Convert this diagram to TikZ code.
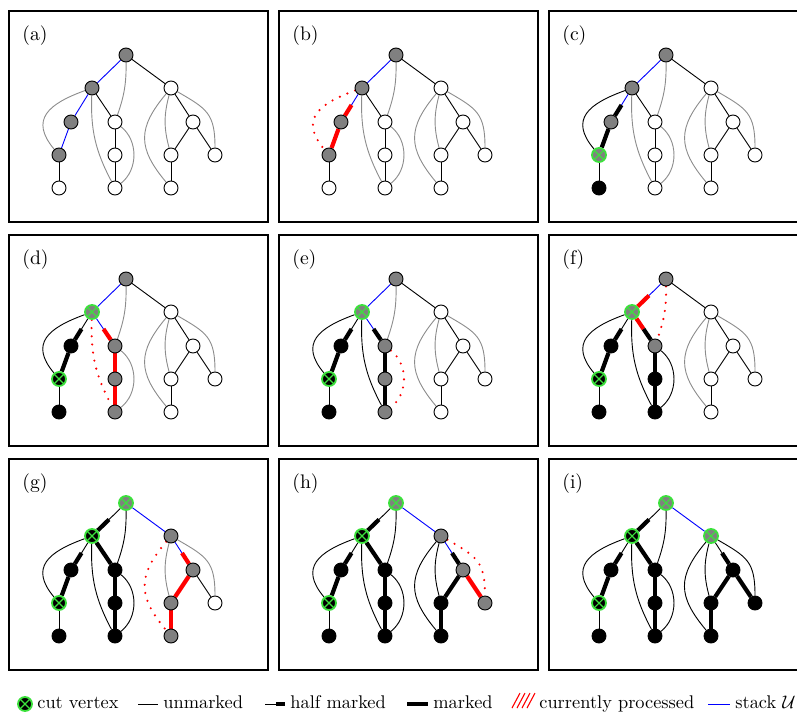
\documentclass[tikz,border=0pt]{standalone}
\usetikzlibrary{calc,backgrounds}
\definecolor{cutg}{RGB}{60,225,60}
\definecolor{vgray}{RGB}{128,128,128}
\definecolor{egray}{RGB}{140,140,140}
\tikzset{
 vtx/.style={circle,draw=black,line width=0.5pt,fill=white,minimum size=7.7pt,inner sep=0pt},
 gv/.style={fill=vgray},
 bv/.style={fill=black},
 cutv/.style={draw=cutg,line width=1pt,path picture={\draw[cutg,line width=0.6pt]
   (path picture bounding box.north west)--(path picture bounding box.south east)
   (path picture bounding box.north east)--(path picture bounding box.south west);}},
 thinE/.style={line width=0.5pt,black},
 grayE/.style={line width=0.5pt,egray},
 blueE/.style={line width=0.5pt,blue},
 thickE/.style={line width=2.3pt,black},
 redE/.style={line width=2.3pt,red},
 dotE/.style={red,line width=1.3pt,line cap=round,dash pattern=on 0pt off 4.5pt},
 frame/.style={draw=black,line width=1.1pt},
 plabel/.style={anchor=base west,inner sep=0pt,font=\fontsize{10.8}{13}\selectfont},
 ltext/.style={anchor=base west,inner sep=0pt,font=\fontsize{10.1}{12}\selectfont},
 nR/.style={},nA/.style={},nB/.style={},nC/.style={},nD/.style={},nE/.style={},nF/.style={},
 nG/.style={},nH/.style={},nI/.style={},nJ/.style={},nK/.style={},nL/.style={}
}
\newcommand\mktree[1]{%
 \node[vtx,nR] (#1R) at (117,-44) {};
 \node[vtx,nA] (#1A) at (83,-77) {};
 \node[vtx,nB] (#1B) at (162,-77) {};
 \node[vtx,nC] (#1C) at (62,-111) {};
 \node[vtx,nD] (#1D) at (106,-111) {};
 \node[vtx,nE] (#1E) at (184,-111) {};
 \node[vtx,nF] (#1F) at (50,-144) {};
 \node[vtx,nG] (#1G) at (106,-144) {};
 \node[vtx,nH] (#1H) at (162,-144) {};
 \node[vtx,nI] (#1I) at (206,-144) {};
 \node[vtx,nJ] (#1J) at (50,-177) {};
 \node[vtx,nK] (#1K) at (106,-177) {};
 \node[vtx,nL] (#1L) at (162,-177) {};
}
\newcommand\sedge[3]{\draw[#1] (#2) -- (#3);}
\newcommand\hedge[4]{\draw[#1] (#3) -- ($(#3)!.5!(#4)$); \draw[#2] ($(#3)!.5!(#4)$) -- (#4);}
\newcommand\bRD[2]{\draw[#1] (#2R) to[bend left=10] (#2D);}
\newcommand\bAK[2]{\draw[#1] (#2A) to[bend right=15] (#2K);}
\newcommand\bDK[2]{\draw[#1] (#2D) to[bend left=52] (#2K);}
\newcommand\bAF[2]{\draw[#1] (#2A) to[out=200,in=130,looseness=1.5] (#2F);}
\newcommand\bBL[2]{\draw[#1] (#2B) to[out=230,in=130,looseness=1.3] (#2L);}
\newcommand\bBH[2]{\draw[#1] (#2B) to[bend right=15] (#2H);}
\newcommand\bBI[2]{\draw[#1] (#2B) to[out=-30,in=90,looseness=1.3] (#2I);}
% right subtree untouched
\newcommand\rightinit[1]{%
 \sedge{thinE}{#1R}{#1B}\sedge{thinE}{#1B}{#1E}\sedge{thinE}{#1E}{#1H}
 \sedge{thinE}{#1E}{#1I}\sedge{thinE}{#1H}{#1L}
 \bBL{grayE}{#1}\bBH{grayE}{#1}\bBI{grayE}{#1}}
% leftmost branch finished
\newcommand\leftleft[1]{%
 \hedge{thinE}{thickE}{#1A}{#1C}\sedge{thickE}{#1C}{#1F}\sedge{thinE}{#1F}{#1J}
 \bAF{thinE}{#1}}
% whole left part finished
\newcommand\leftdone[1]{%
 \leftleft{#1}\hedge{thinE}{thickE}{#1R}{#1A}\bRD{thinE}{#1}
 \sedge{thickE}{#1A}{#1D}\sedge{thickE}{#1D}{#1G}\sedge{thickE}{#1G}{#1K}
 \bDK{thinE}{#1}\bAK{thinE}{#1}}
\begin{document}
\begin{tikzpicture}[x=0.55pt,y=0.55pt]
\useasboundingbox (0,0) rectangle (797,713);
% ---------- (a)
\begin{scope}[shift={(9,702)},nR/.style=gv,nA/.style=gv,nC/.style=gv,nF/.style=gv]
 \draw[frame] (0,0) rectangle (259,-211);
 \node[plabel] (la) at (13,-29.4) {(a)};
 \mktree{a}
 \begin{pgfonlayer}{background}
  \sedge{blueE}{aR}{aA}\sedge{blueE}{aA}{aC}\sedge{blueE}{aC}{aF}\sedge{thinE}{aF}{aJ}
  \sedge{thinE}{aA}{aD}\sedge{thinE}{aD}{aG}\sedge{thinE}{aG}{aK}
  \bRD{grayE}{a}\bAK{grayE}{a}\bDK{grayE}{a}\bAF{grayE}{a}
  \rightinit{a}
 \end{pgfonlayer}
\end{scope}
% ---------- (b)
\begin{scope}[shift={(279,702)},nR/.style=gv,nA/.style=gv,nC/.style=gv,nF/.style=gv]
 \draw[frame] (0,0) rectangle (259,-211);
 \node[plabel] (lb) at (13,-29.4) {(b)};
 \mktree{b}
 \begin{pgfonlayer}{background}
  \sedge{blueE}{bR}{bA}\hedge{blueE}{redE}{bA}{bC}\sedge{redE}{bC}{bF}\sedge{thinE}{bF}{bJ}
  \sedge{thinE}{bA}{bD}\sedge{thinE}{bD}{bG}\sedge{thinE}{bG}{bK}
  \bRD{grayE}{b}\bAK{grayE}{b}\bDK{grayE}{b}\bAF{dotE}{b}
  \rightinit{b}
 \end{pgfonlayer}
\end{scope}
% ---------- (c)
\begin{scope}[shift={(549,702)},nR/.style=gv,nA/.style=gv,nC/.style=gv,nF/.style={gv,cutv},nJ/.style=bv]
 \draw[frame] (0,0) rectangle (259,-211);
 \node[plabel] (lc) at (13,-29.4) {(c)};
 \mktree{c}
 \begin{pgfonlayer}{background}
  \sedge{blueE}{cR}{cA}\hedge{blueE}{thickE}{cA}{cC}\sedge{thickE}{cC}{cF}\sedge{thinE}{cF}{cJ}
  \bAF{thinE}{c}
  \sedge{thinE}{cA}{cD}\sedge{thinE}{cD}{cG}\sedge{thinE}{cG}{cK}
  \bRD{grayE}{c}\bAK{grayE}{c}\bDK{grayE}{c}
  \rightinit{c}
 \end{pgfonlayer}
\end{scope}
% ---------- (d)
\begin{scope}[shift={(9,478)},nR/.style=gv,nA/.style={gv,cutv},nC/.style=bv,nF/.style={bv,cutv},nJ/.style=bv,
  nD/.style=gv,nG/.style=gv,nK/.style=gv]
 \draw[frame] (0,0) rectangle (259,-211);
 \node[plabel] (ld) at (13,-29.4) {(d)};
 \mktree{d}
 \begin{pgfonlayer}{background}
  \sedge{blueE}{dR}{dA}\leftleft{d}
  \hedge{blueE}{redE}{dA}{dD}\sedge{redE}{dD}{dG}\sedge{redE}{dG}{dK}
  \bAK{dotE}{d}\bDK{grayE}{d}\bRD{grayE}{d}
  \rightinit{d}
 \end{pgfonlayer}
\end{scope}
% ---------- (e)
\begin{scope}[shift={(279,478)},nR/.style=gv,nA/.style={gv,cutv},nC/.style=bv,nF/.style={bv,cutv},nJ/.style=bv,
  nD/.style=gv,nG/.style=gv,nK/.style=gv]
 \draw[frame] (0,0) rectangle (259,-211);
 \node[plabel] (le) at (13,-29.4) {(e)};
 \mktree{e}
 \begin{pgfonlayer}{background}
  \sedge{blueE}{eR}{eA}\leftleft{e}
  \hedge{blueE}{thickE}{eA}{eD}\sedge{thickE}{eD}{eG}\sedge{thickE}{eG}{eK}
  \bAK{thinE}{e}\bDK{dotE}{e}\bRD{grayE}{e}
  \rightinit{e}
 \end{pgfonlayer}
\end{scope}
% ---------- (f)
\begin{scope}[shift={(549,478)},nR/.style=gv,nA/.style={gv,cutv},nC/.style=bv,nF/.style={bv,cutv},nJ/.style=bv,
  nD/.style=gv,nG/.style=bv,nK/.style=bv]
 \draw[frame] (0,0) rectangle (259,-211);
 \node[plabel] (lf) at (13,-29.4) {(f)};
 \mktree{f}
 \begin{pgfonlayer}{background}
  \hedge{blueE}{redE}{fR}{fA}\leftleft{f}
  \hedge{redE}{thickE}{fA}{fD}\sedge{thickE}{fD}{fG}\sedge{thickE}{fG}{fK}
  \bAK{thinE}{f}\bDK{thinE}{f}\bRD{dotE}{f}
  \rightinit{f}
 \end{pgfonlayer}
\end{scope}
% ---------- (g)
\begin{scope}[shift={(9,254)},nR/.style={gv,cutv},nA/.style={bv,cutv},nC/.style=bv,nF/.style={bv,cutv},nJ/.style=bv,
  nD/.style=bv,nG/.style=bv,nK/.style=bv,nB/.style=gv,nE/.style=gv,nH/.style=gv,nL/.style=gv]
 \draw[frame] (0,0) rectangle (259,-211);
 \node[plabel] (lg) at (13,-29.4) {(g)};
 \mktree{g}
 \begin{pgfonlayer}{background}
  \leftdone{g}
  \sedge{blueE}{gR}{gB}\hedge{blueE}{redE}{gB}{gE}\sedge{redE}{gE}{gH}\sedge{redE}{gH}{gL}
  \sedge{thinE}{gE}{gI}
  \bBL{dotE}{g}\bBH{grayE}{g}\bBI{grayE}{g}
 \end{pgfonlayer}
\end{scope}
% ---------- (h)
\begin{scope}[shift={(279,254)},nR/.style={gv,cutv},nA/.style={bv,cutv},nC/.style=bv,nF/.style={bv,cutv},nJ/.style=bv,
  nD/.style=bv,nG/.style=bv,nK/.style=bv,nB/.style=gv,nE/.style=gv,nH/.style=bv,nL/.style=bv,nI/.style=gv]
 \draw[frame] (0,0) rectangle (259,-211);
 \node[plabel] (lh) at (13,-29.4) {(h)};
 \mktree{h}
 \begin{pgfonlayer}{background}
  \leftdone{h}
  \sedge{blueE}{hR}{hB}\hedge{blueE}{thickE}{hB}{hE}\sedge{thickE}{hE}{hH}\sedge{thickE}{hH}{hL}
  \sedge{redE}{hE}{hI}
  \bBL{thinE}{h}\bBH{thinE}{h}\bBI{dotE}{h}
 \end{pgfonlayer}
\end{scope}
% ---------- (i)
\begin{scope}[shift={(549,254)},nR/.style={gv,cutv},nA/.style={bv,cutv},nC/.style=bv,nF/.style={bv,cutv},nJ/.style=bv,
  nD/.style=bv,nG/.style=bv,nK/.style=bv,nB/.style={gv,cutv},nE/.style=bv,nH/.style=bv,nL/.style=bv,nI/.style=bv]
 \draw[frame] (0,0) rectangle (259,-211);
 \node[plabel] (li) at (13,-29.4) {(i)};
 \mktree{i}
 \begin{pgfonlayer}{background}
  \leftdone{i}
  \sedge{blueE}{iR}{iB}\hedge{thinE}{thickE}{iB}{iE}\sedge{thickE}{iE}{iH}\sedge{thickE}{iH}{iL}
  \sedge{thickE}{iE}{iI}
  \bBL{thinE}{i}\bBH{thinE}{i}\bBI{thinE}{i}
 \end{pgfonlayer}
\end{scope}
% ---------- legend
\node[vtx,bv,cutv] (lcut) at (25,9) {};
\node[ltext] (tcut) at (37,4.5) {cut vertex};
\coordinate (u1) at (138,9); \coordinate (u2) at (158,9);
\draw[thinE] (u1) -- (u2);
\node[ltext] (tun) at (163,4.5) {unmarked};
\coordinate (h1) at (265,9); \coordinate (h2) at (276,9); \coordinate (h3) at (285,9);
\draw[thinE] (h1) -- (h2); \draw[thickE] (h2) -- (h3);
\node[ltext] (thm) at (290,4.5) {half marked};
\coordinate (m1) at (407,9); \coordinate (m2) at (428,9);
\draw[thickE] (m1) -- (m2);
\node[ltext] (tmk) at (433,4.5) {marked};
\foreach \i in {0,...,3} \draw[red,line width=0.6pt] (512+5*\i,5) -- (520+5*\i,20);
\node[ltext] (tcp) at (539,4.5) {currently processed};
\coordinate (s1) at (708,9); \coordinate (s2) at (730,9);
\draw[blueE] (s1) -- (s2);
\node[ltext] (tst) at (735,4.5) {stack $\mathcal{U}$};
\end{tikzpicture}
\end{document}
